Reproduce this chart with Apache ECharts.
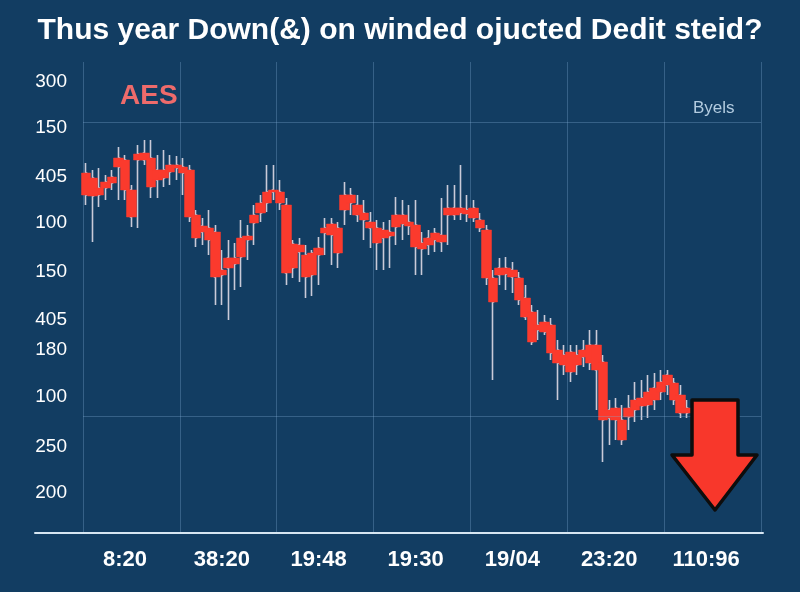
<!DOCTYPE html>
<html>
<head>
<meta charset="utf-8">
<script src="https://cdn.jsdelivr.net/npm/echarts@6/dist/echarts.min.js"></script>
<style>
html,body{margin:0;padding:0;background:#123d62;}
#chart{width:800px;height:592px;}
</style>
</head>
<body>
<div id="chart"></div>
<script>
// ---- data ----
const titleText = 'Thus year Down(&) on winded ojucted Dedit steid?';
const seriesLabel = 'AES';
const legendLabel = 'Byels';
const xTickLabels = ['8:20', '38:20', '19:48', '19:30', '19/04', '23:20', '110:96'];
const yTickValues = [451, 405, 356, 310, 261, 213, 183, 136, 86, 40];
const yTickLabels = ['300', '150', '405', '100', '150', '405', '180', '100', '250', '200'];
const gridLevels = [411, 117];
const categoryCount = 105;

const opens  = [360,355,338,345,350,366,373,343,373,380,375,353,355,361,368,366,363,318,301,305,301,263,265,275,276,293,310,320,330,341,341,328,265,288,278,258,278,300,309,305,323,338,328,320,311,305,295,301,306,318,311,308,290,288,293,298,318,325,320,323,325,313,303,255,258,265,263,255,235,221,208,211,208,183,178,181,178,183,188,188,171,123,125,113,125,133,135,141,145,151,158,150,138,125];
const closes = [338,337,345,351,356,375,343,316,379,373,346,363,363,368,365,360,316,295,307,293,256,258,275,269,295,297,318,330,341,343,330,260,289,281,256,280,285,305,298,280,338,330,318,313,305,290,303,297,318,309,307,286,284,295,300,291,325,318,325,319,315,305,255,231,265,259,256,233,216,191,203,201,180,170,168,161,168,176,170,163,113,115,113,93,116,123,127,128,133,141,148,133,120,120];
const lows   = [328,291,326,333,343,333,333,306,305,368,335,335,346,348,353,338,311,286,288,278,228,228,213,243,246,273,288,311,321,333,323,248,255,251,235,237,248,278,268,265,308,318,311,293,285,263,263,265,288,293,298,258,258,278,281,281,288,313,313,311,311,301,248,153,248,243,240,228,213,188,193,198,173,133,158,151,158,166,163,123,71,88,93,88,103,111,113,115,123,133,138,128,115,115];
const highs  = [370,363,365,358,363,386,378,348,388,393,393,378,383,378,377,375,368,323,315,323,308,283,293,290,313,308,328,338,368,368,353,335,293,295,288,283,296,315,315,311,351,345,338,333,321,313,311,313,336,333,328,333,301,303,305,335,348,348,368,338,333,320,308,263,275,276,271,261,248,228,223,218,215,193,188,188,188,193,203,203,178,133,135,128,138,151,153,158,160,163,163,155,148,133];

// ---- build ----
const categories = [];
for (let i = 0; i < categoryCount; i++) categories.push(String(i));
const wickData = opens.map((o, i) => [o, closes[i], lows[i], highs[i]]);
const bodyData = opens.map((o, i) => [o, closes[i], Math.min(o, closes[i]), Math.max(o, closes[i])]);

const gridColor = 'rgba(130,175,215,0.32)';
const wickColor = '#c9cad8';
const bodyColor = '#fb3a2d';
const chart = echarts.init(document.getElementById('chart'));
chart.setOption({
  backgroundColor: '#123d62',
  animation: false,
  title: [
    { text: titleText, left: 'center', top: 11,
      textStyle: { color: '#ffffff', fontSize: 30, fontWeight: 'bold', fontFamily: 'Liberation Sans' } },
    { text: seriesLabel, left: 115, top: 77,
      textStyle: { color: '#ee6b6b', fontSize: 28, fontWeight: 'bold', fontFamily: 'Liberation Sans' } }
  ],
  legend: {
    data: [{ name: legendLabel, icon: 'none' }],
    left: 683, top: 95, itemWidth: 0, itemHeight: 0,
    selectedMode: false,
    textStyle: { color: '#b3cce0', fontSize: 17, fontFamily: 'Liberation Sans' }
  },
  grid: [
    { left: 83, right: 39, top: 62, bottom: 59 },
    { left: 35, right: 37, top: 62, bottom: 59 }
  ],
  xAxis: [
    { type: 'category', gridIndex: 0, data: categories, boundaryGap: true,
      axisLine: { show: false }, axisTick: { show: false },
      axisLabel: { interval: (i) => i % 15 === 6, margin: 16,
        formatter: (v, i) => xTickLabels[(i - 6) / 15] || '',
        color: '#ffffff', fontSize: 22, fontWeight: 'bold', fontFamily: 'Liberation Sans' },
      splitLine: { show: true, interval: (i) => i % 15 === 0, lineStyle: { color: gridColor, width: 1 } } },
    { type: 'value', gridIndex: 1, min: 0, max: 1,
      axisLine: { show: true, lineStyle: { color: '#d6e6f2', width: 2 } },
      axisTick: { show: false }, axisLabel: { show: false }, splitLine: { show: false } }
  ],
  yAxis: [
    { type: 'value', gridIndex: 0, min: 0, max: 471,
      axisLine: { show: false }, axisTick: { show: false }, splitLine: { show: false },
      axisLabel: { customValues: yTickValues, margin: 16,
        formatter: (v) => { const k = yTickValues.indexOf(v); return k >= 0 ? yTickLabels[k] : ''; },
        color: '#ffffff', fontSize: 19, fontFamily: 'Liberation Sans' } },
    { type: 'value', gridIndex: 1, min: 0, max: 1, show: false }
  ],
  series: [
    { name: 'wicks', type: 'candlestick', xAxisIndex: 0, yAxisIndex: 0, data: wickData,
      barWidth: 1.5,
      itemStyle: { color: wickColor, color0: wickColor, borderColor: wickColor, borderColor0: wickColor, borderWidth: 1.6 },
      markLine: { silent: true, symbol: 'none', label: { show: false },
        lineStyle: { color: gridColor, width: 1, type: 'solid' },
        data: gridLevels.map(v => ({ yAxis: v })) } },
    { name: legendLabel, type: 'candlestick', xAxisIndex: 0, yAxisIndex: 0, data: bodyData,
      barWidth: 10,
      itemStyle: { color: bodyColor, color0: bodyColor, borderColor: bodyColor, borderColor0: bodyColor, borderWidth: 0.5 } }
  ],
  graphic: [
    { type: 'polygon', z: 100,
      shape: { points: [[692, 400], [738, 400], [738, 455], [757, 455], [715, 510], [672, 455], [692, 455]] },
      style: { fill: '#f8372b', stroke: '#0d0d0d', lineWidth: 3.5, lineJoin: 'round' } }
  ]
});
</script>
</body>
</html>
